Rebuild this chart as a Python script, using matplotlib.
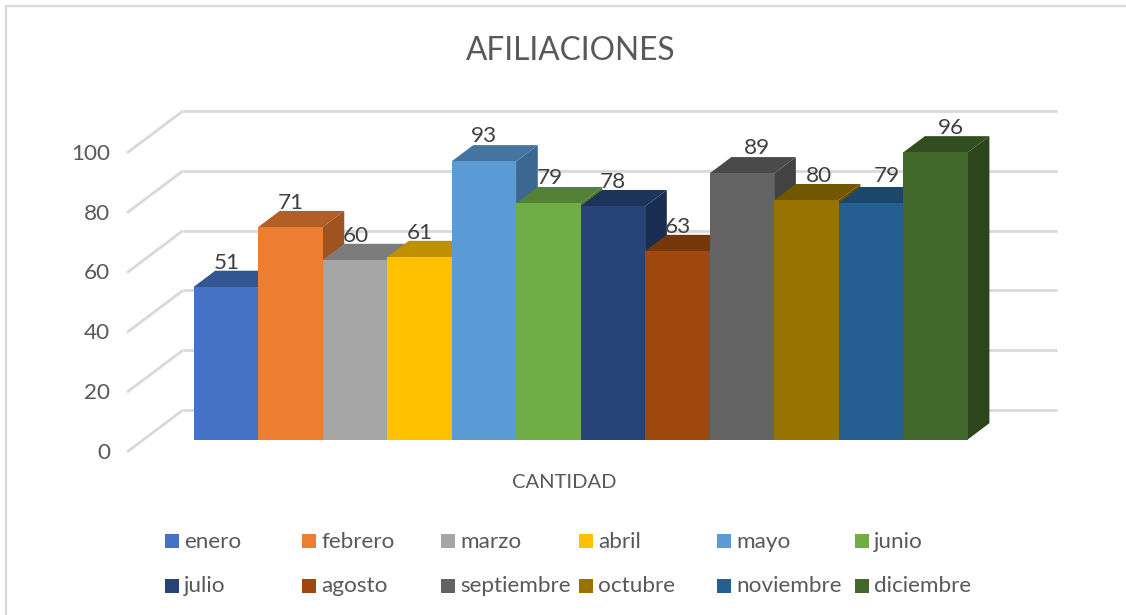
import matplotlib
matplotlib.use("Agg")
import matplotlib.pyplot as plt
from matplotlib.patches import Polygon, Rectangle

months = ["enero", "febrero", "marzo", "abril", "mayo", "junio", "julio",
          "agosto", "septiembre", "octubre", "noviembre", "diciembre"]
values = [51, 71, 60, 61, 93, 79, 78, 63, 89, 80, 79, 96]
front_colors = ["#4472C4", "#ED7D31", "#A5A5A5", "#FFC000", "#5B9BD5", "#70AD47",
                "#264478", "#9E480E", "#636363", "#997300", "#255E91", "#43682B"]
top_colors = ["#335693", "#B25E25", "#7C7C7C", "#BF9000", "#44749F", "#548235",
              "#1C335A", "#76360B", "#4A4A4A", "#735600", "#1C476D", "#324E20"]
side_colors = ["#2D4C83", "#9E5321", "#6E6E6E", "#AA8000", "#3C6790", "#4B742F",
               "#192D50", "#69300A", "#424242", "#664D00", "#193F61", "#2C451D"]
y_ticks = [0, 20, 40, 60, 80, 100]
title = "AFILIACIONES"
x_label = "CANTIDAD"

W, H = 1126, 615
fig = plt.figure(figsize=(W / 100, H / 100), dpi=100, facecolor="white")
plt.rcParams["font.family"] = ["Lato", "DejaVu Sans"]
TXT = "#595959"
LBL = "#404040"
GRID = "#D9D9D9"

# data-label nudges from the bar centre / bar top, in pixels
label_shift_x = [1, 1, 1, 1, 0, 1, 0, 0, 15, 13, 16, 15]
label_shift_y = [24, 24, 24, 24, 25, 25, 24, 24, 25, 24, 27, 24]

# axes: category index 0..12 -> px 193.5..967.7, value 0..100 -> px 439.5..140.5
x0, x1, y0, y1 = 193.5, 967.7, 439.5, 140.5
ax = fig.add_axes([x0 / W, 1 - y0 / H, (x1 - x0) / W, (y0 - y1) / H])
ax.set_xlim(0, 12)
ax.set_ylim(0, 100)
ax.axis("off")
ux = (x1 - x0) / 12
uy = (y0 - y1) / 100
ddx, ddy = 21.7 / ux, 16.3 / uy                # bar depth
wall_dx, wall_dy = -10.5 / ux, 29.5 / uy       # back wall origin offset
floor_dx, floor_dy = -66.5 / ux, -12.5 / uy    # front floor origin offset
wall_right = (1057 - x0) / ux

for t in y_ticks:
    ax.plot([wall_dx, wall_right], [t + wall_dy] * 2, color=GRID, lw=2.0,
            clip_on=False, zorder=1, solid_capstyle="butt")
    ax.plot([floor_dx, wall_dx], [t + floor_dy, t + wall_dy], color=GRID, lw=2.0,
            clip_on=False, zorder=1, solid_capstyle="butt")
    ax.text(-83.5 / ux, (t + floor_dy) - 0.8 / uy, str(t), ha="right", va="center",
            fontsize=16.2, color=TXT, clip_on=False)

for i, v in enumerate(values):
    z = 2 + i
    ax.add_patch(Polygon([(i + 1, 0), (i + 1 + ddx, ddy), (i + 1 + ddx, v + ddy), (i + 1, v)],
                         closed=True, fc=side_colors[i], ec="none", zorder=z, clip_on=False))
    ax.add_patch(Polygon([(i, v), (i + ddx, v + ddy), (i + 1 + ddx, v + ddy), (i + 1, v)],
                         closed=True, fc=top_colors[i], ec="none", zorder=z, clip_on=False))
    ax.add_patch(Rectangle((i, 0), 1, v, fc=front_colors[i], ec="none", zorder=z, clip_on=False))
for i, v in enumerate(values):
    ax.text(i + 0.5 + label_shift_x[i] / ux, v + label_shift_y[i] / uy, str(v),
            ha="center", va="center", fontsize=16.2, color=LBL, zorder=30, clip_on=False)

fig.text(570.5 / W, 1 - 51 / H, title, ha="center", va="center", fontsize=22.8, color=TXT)
fig.text(564.5 / W, 1 - 483 / H, x_label, ha="center", va="center", fontsize=14.5, color=TXT)

# chart frame
fig.add_artist(plt.Line2D([5.5 / W, 5.5 / W, 1 + 1 / W], [0, 1 - 5.5 / H, 1 - 5.5 / H],
                          color=GRID, lw=1.6, transform=fig.transFigure))

col_x = [165, 302, 441, 579, 717, 855]
row_y = [541, 586]
for i, m in enumerate(months):
    cx = col_x[i % 6]
    cy = row_y[i // 6]
    fig.add_artist(Rectangle((cx / W, 1 - (cy + 7) / H), 14 / W, 14 / H, fc=front_colors[i],
                             ec="none", transform=fig.transFigure))
    fig.text((cx + 19) / W, 1 - (cy + 0.5) / H, m, ha="left", va="center", fontsize=16.2, color=TXT)

fig.savefig("out.png", dpi=100, facecolor="white")
